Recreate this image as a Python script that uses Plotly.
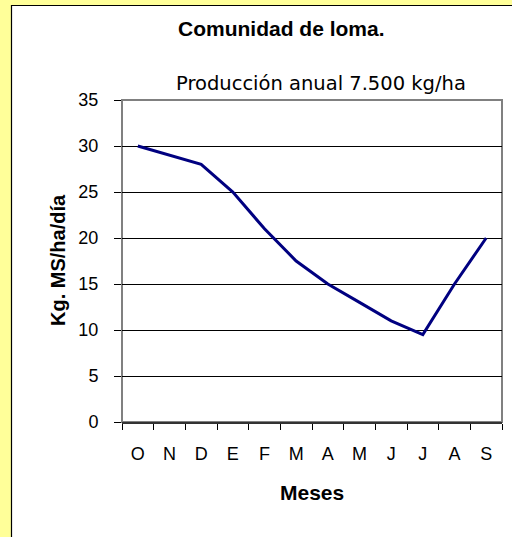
import plotly.graph_objects as go

months = ["O", "N", "D", "E", "F", "M", "A", "M ", "J", "J ", "A ", "S"]
month_labels = ["O", "N", "D", "E", "F", "M", "A", "M", "J", "J", "A", "S"]
production = [30, 29, 28, 25, 21, 17.5, 15, 13, 11, 9.5, 15, 20]
y_ticks = [0, 5, 10, 15, 20, 25, 30, 35]

title_text = "Comunidad de loma."
subtitle_text = "Producción anual 7.500 kg/ha"
x_title = "Meses"
y_title = "Kg. MS/ha/día"

W, H = 512, 537
L, R, T, B = 122, 10, 100, 115
pw = W - L - R
ph = H - T - B

def px_x(x):
    return (x - L) / pw

def px_y(y):
    return (H - B - y) / ph

fig = go.Figure()
fig.add_trace(go.Scatter(
    x=months, y=production, mode="lines",
    line=dict(color="#000080", width=3),
    showlegend=False, hoverinfo="skip",
))

# white panel
fig.add_shape(type="rect", xref="paper", yref="paper",
              x0=px_x(11.5), x1=px_x(520), y0=px_y(560), y1=px_y(5.5),
              fillcolor="white", line=dict(color="#000000", width=1.2), layer="below")
# plot area border
fig.add_shape(type="rect", xref="paper", yref="paper",
              x0=0, x1=1, y0=0, y1=1,
              line=dict(color="#808080", width=2), layer="between")

ARIAL = "Liberation Sans, Arial"

def label(text, x, y, font, size, angle=0):
    fig.add_annotation(text=text, xref="paper", yref="paper",
                       x=px_x(x), y=px_y(y), showarrow=False, textangle=angle,
                       xanchor="center", yanchor="middle",
                       font=dict(family=font, size=size, color="black"))

label("<b>" + title_text + "</b>", 281, 28, ARIAL, 21)
label(subtitle_text, 321, 84, "DejaVu Sans", 19.5)
label("<b>" + x_title + "</b>", 312, 492, ARIAL, 21)
label("<b>" + y_title + "</b>", 58, 260, ARIAL, 20, -90)

fig.update_layout(
    width=W, height=H,
    margin=dict(l=L, r=R, t=T, b=B),
    paper_bgcolor="#FFFF99", plot_bgcolor="white",
    xaxis=dict(
        type="category", tickson="boundaries", ticks="outside", ticklen=6,
        tickcolor="black", tickwidth=1, ticklabelstandoff=14,
        tickvals=months, ticktext=month_labels,
        showline=True, linecolor="#333333", linewidth=2,
        showgrid=False, zeroline=False,
        tickfont=dict(family=ARIAL, size=18, color="black"),
        range=[-0.5, 11.5],
    ),
    yaxis=dict(
        range=[0, 35], tickvals=y_ticks, ticks="outside", ticklen=7,
        tickcolor="black", tickwidth=1, ticklabelstandoff=12,
        showline=False, showgrid=True, gridcolor="black", gridwidth=1,
        zeroline=False,
        tickfont=dict(family=ARIAL, size=18, color="black"),
    ),
)

fig.write_html("out.html", config={"displayModeBar": False},
               post_script="document.body.style.margin='0';document.body.style.overflow='hidden';")
